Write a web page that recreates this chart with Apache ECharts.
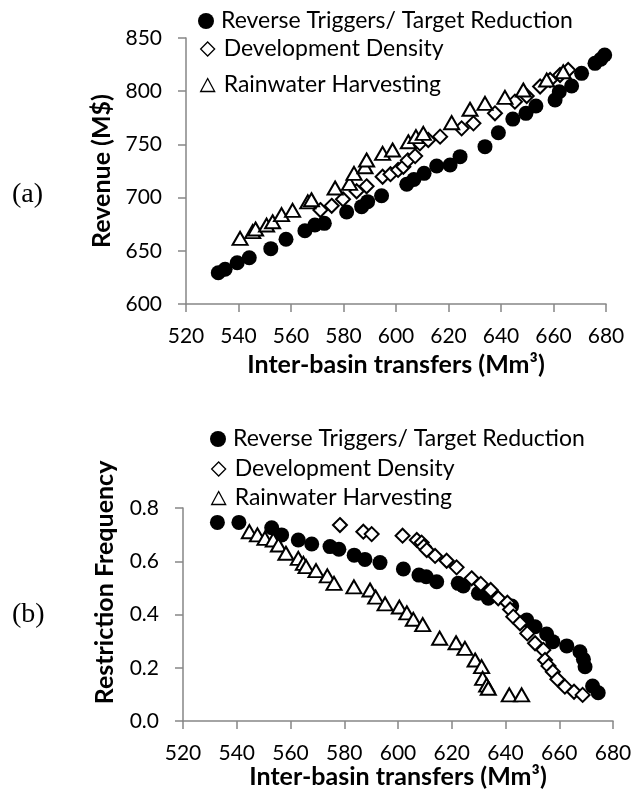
<!DOCTYPE html>
<html>
<head>
<meta charset="utf-8">
<script src="https://cdn.jsdelivr.net/npm/echarts@6/dist/echarts.min.js"></script>
<style>
html,body{margin:0;padding:0;background:#fff;}
#chart{width:636px;height:797px;}
</style>
</head>
<body>
<div id="chart"></div>
<script>
// ---- Data ----
const seriesNames = ['Reverse Triggers/ Target Reduction', 'Development Density', 'Rainwater Harvesting'];
const xTickValues = [520, 540, 560, 580, 600, 620, 640, 660, 680];
const revenueTicks = [600, 650, 700, 750, 800, 850];
const restrictionTicks = [0.0, 0.2, 0.4, 0.6, 0.8];

// (a) Inter-basin transfers (Mm³) vs Revenue (M$)
const revenueReverse = [[532.3,629.4],[534.9,632.6],[539.5,638.8],[544.1,643.5],[552.3,652.0],[558.1,660.8],[565.3,668.9],[569.1,674.2],[572.7,675.8],[581.2,686.5],[586.9,691.5],[589.2,696.2],[594.5,701.8],[604.1,712.5],[606.8,717.0],[610.7,722.8],[615.5,729.7],[620.6,730.6],[624.4,738.5],[633.9,747.9],[639.0,761.0],[644.5,773.8],[649.5,779.2],[653.3,786.1],[660.6,791.7],[662.2,799.5],[666.9,804.9],[670.7,816.8],[675.8,826.2],[678.0,830.0],[679.5,834.0]];
const revenueDensity = [[571.2,688.3],[575.5,692.3],[579.8,698.4],[585.0,706.0],[588.8,710.6],[594.9,719.6],[597.9,722.0],[600.8,726.0],[602.8,729.0],[604.5,735.0],[607.3,739.0],[609.1,751.0],[612.3,754.1],[616.8,757.3],[625.0,765.1],[629.5,769.8],[637.7,779.2],[645.3,790.2],[649.8,795.5],[654.9,804.4],[658.7,810.5],[662.5,815.2],[665.6,819.9]];
const revenueRainwater = [[540.6,661.7],[545.4,668.0],[546.5,670.5],[550.7,674.2],[553.0,677.3],[556.4,684.0],[560.6,688.0],[566.4,696.0],[567.8,698.0],[576.8,709.0],[582.3,713.4],[584.0,722.8],[588.2,729.0],[588.8,735.3],[594.9,741.6],[598.7,744.7],[604.7,752.5],[607.6,757.3],[610.4,760.4],[621.2,770.4],[628.2,783.0],[633.9,788.6],[641.5,794.2],[648.5,801.1],[657.4,810.5],[663.7,818.3]];

// (b) Inter-basin transfers (Mm³) vs Restriction Frequency
const restrictReverse = [[532.8,0.746],[540.8,0.746],[553.0,0.726],[556.7,0.699],[562.9,0.680],[567.9,0.665],[574.7,0.655],[578.0,0.645],[583.7,0.623],[587.7,0.607],[593.3,0.595],[602.0,0.571],[607.8,0.548],[610.5,0.542],[614.4,0.523],[622.4,0.517],[624.3,0.507],[629.9,0.480],[633.6,0.461],[642.3,0.432],[647.9,0.379],[651.0,0.354],[655.3,0.327],[657.6,0.298],[662.8,0.282],[667.7,0.260],[669.0,0.232],[669.6,0.204],[672.4,0.131],[674.5,0.106]];
const restrictDensity = [[578.4,0.736],[587.1,0.711],[590.2,0.702],[601.7,0.696],[607.0,0.680],[608.8,0.670],[609.6,0.655],[610.7,0.642],[613.8,0.620],[618.1,0.602],[621.8,0.577],[627.4,0.536],[630.8,0.515],[634.5,0.492],[637.3,0.461],[640.7,0.444],[641.7,0.419],[642.9,0.392],[645.4,0.367],[648.1,0.329],[651.0,0.292],[654.1,0.267],[654.7,0.229],[656.0,0.207],[657.6,0.185],[659.3,0.157],[662.1,0.129],[665.5,0.110],[668.7,0.098]];
const restrictRainwater = [[544.7,0.711],[547.7,0.699],[550.5,0.686],[553.6,0.680],[555.5,0.661],[558.3,0.630],[562.9,0.611],[564.8,0.592],[565.8,0.580],[569.5,0.565],[573.7,0.545],[576.2,0.517],[583.6,0.504],[589.6,0.492],[591.7,0.465],[595.2,0.440],[600.5,0.428],[603.3,0.406],[605.7,0.382],[609.2,0.362],[615.5,0.311],[621.6,0.294],[624.9,0.273],[628.7,0.229],[631.1,0.204],[631.5,0.160],[633.0,0.135],[633.6,0.123],[641.4,0.098],[646.0,0.098]];

// ---- Styles ----
const FONT = 'Lato';
const AXIS_COLOR = '#868686';
const styles = [
  {symbol: 'circle', symbolSize: 15, itemStyle: {color: '#000', borderColor: '#000', borderWidth: 0, opacity: 1}},
  {symbol: 'diamond', symbolSize: 14, itemStyle: {color: '#fff', borderColor: '#000', borderWidth: 2, opacity: 1}},
  {symbol: 'triangle', symbolSize: [15, 13], itemStyle: {color: '#fff', borderColor: '#000', borderWidth: 2, opacity: 1}}
];

function xAxis(gridIndex, nameGap) {
  return {
    type: 'value', gridIndex: gridIndex,
    min: xTickValues[0], max: xTickValues[xTickValues.length - 1], interval: xTickValues[1] - xTickValues[0],
    name: 'Inter-basin transfers (Mm³)', nameLocation: 'middle', nameGap: nameGap,
    nameTextStyle: {fontFamily: FONT, fontSize: 25, fontWeight: 'bold', color: '#000'},
    axisLine: {show: true, onZero: false, lineStyle: {color: AXIS_COLOR, width: 1.5}},
    axisTick: {show: true, length: 8, lineStyle: {color: AXIS_COLOR, width: 1.5}},
    axisLabel: {fontFamily: FONT, fontSize: 21, color: '#000', margin: 22},
    splitLine: {show: false}
  };
}
function yAxis(gridIndex, ticks, name, nameGap, fmt, namePad) {
  return {
    type: 'value', gridIndex: gridIndex,
    min: ticks[0], max: ticks[ticks.length - 1], interval: ticks[1] - ticks[0],
    name: name, nameLocation: 'middle', nameGap: nameGap,
    nameTextStyle: {fontFamily: FONT, fontSize: 25, fontWeight: 'bold', color: '#000', padding: namePad},
    axisLine: {show: true, onZero: false, lineStyle: {color: AXIS_COLOR, width: 1.5}},
    axisTick: {show: true, length: 8, lineStyle: {color: AXIS_COLOR, width: 1.5}},
    axisLabel: {fontFamily: FONT, fontSize: 21, color: '#000', margin: 24, formatter: fmt},
    splitLine: {show: false}
  };
}
function series(i, data, axisIndex) {
  return Object.assign({
    type: 'scatter', name: seriesNames[i], data: data,
    xAxisIndex: axisIndex, yAxisIndex: axisIndex, emphasis: {disabled: true}
  }, styles[i]);
}
const legendIcons = [
  {icon: 'circle', w: 16, h: 16, style: {color: '#000', borderWidth: 0, opacity: 1}},
  {icon: 'diamond', w: 14, h: 14, style: {color: '#fff', borderColor: '#000', borderWidth: 1.3, opacity: 1}},
  {icon: 'triangle', w: 14, h: 13, style: {color: '#fff', borderColor: '#000', borderWidth: 1.3, opacity: 1}}
];
function legend(i, centerX, centerY) {
  const L = legendIcons[i];
  return {
    data: [{name: seriesNames[i], icon: L.icon, itemStyle: L.style}],
    left: centerX - L.w / 2, top: centerY - 13, padding: 0,
    itemWidth: L.w, itemHeight: L.h, itemGap: 0, selectedMode: false,
    textStyle: {fontFamily: FONT, fontSize: 23, color: '#000', lineHeight: 26, padding: [0, 0, 0, 16 - L.w + 2]}
  };
}

const chart = echarts.init(document.getElementById('chart'), null, {renderer: 'canvas'});
chart.setOption({
  animation: false,
  backgroundColor: '#fff',
  title: [
    {text: '(a)', left: 12, top: 181, padding: 0, textStyle: {fontFamily: 'Liberation Serif', fontSize: 28, fontWeight: 'normal', color: '#000'}},
    {text: '(b)', left: 12, top: 601, padding: 0, textStyle: {fontFamily: 'Liberation Serif', fontSize: 28, fontWeight: 'normal', color: '#000'}}
  ],
  legend: [
    legend(0, 206, 21), legend(1, 207, 49), legend(2, 207, 85),
    legend(0, 218, 439), legend(1, 218, 469), legend(2, 218, 498)
  ],
  grid: [
    {left: 186, top: 38, width: 420, height: 266},
    {left: 183, top: 508, width: 430, height: 213}
  ],
  xAxis: [xAxis(0, 48), xAxis(1, 42)],
  yAxis: [
    yAxis(0, revenueTicks, 'Revenue (M$)', 67, v => String(v), 0),
    yAxis(1, restrictionTicks, 'Restriction Frequency', 66, v => v.toFixed(1), [0, 0, 0, 64])
  ],
  series: [
    series(0, revenueReverse, 0), series(1, revenueDensity, 0), series(2, revenueRainwater, 0),
    series(0, restrictReverse, 1), series(1, restrictDensity, 1), series(2, restrictRainwater, 1)
  ]
});
</script>
</body>
</html>
